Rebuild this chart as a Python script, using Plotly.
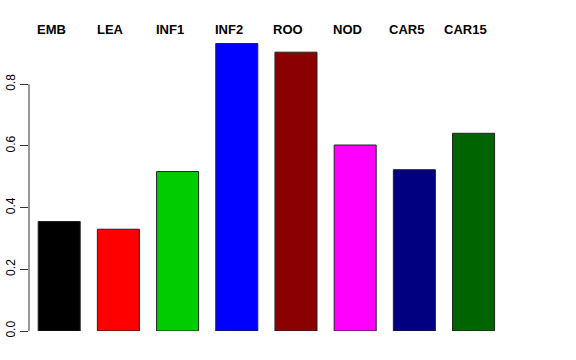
import plotly.graph_objects as go

categories = ["EMB", "LEA", "INF1", "INF2", "ROO", "NOD", "CAR5", "CAR15"]
values = [0.355, 0.330, 0.517, 0.932, 0.904, 0.603, 0.523, 0.641]
colors = ["#000000", "#FF0000", "#00CD00", "#0000FF", "#8B0000", "#FF00FF", "#000080", "#006400"]
tick_vals = [0.0, 0.2, 0.4, 0.6, 0.8]
tick_text = ["0.0", "0.2", "0.4", "0.6", "0.8"]

fig = go.Figure()
fig.add_trace(go.Bar(
    x=list(range(len(categories))),
    y=values,
    marker=dict(color=colors, line=dict(color="#222222", width=1)),
    hoverinfo="skip",
))

for i, c in enumerate(categories):
    fig.add_annotation(
        x=i, y=1.028, xref="x", yref="paper", text="<b>%s</b>" % c,
        showarrow=False, xshift=-8, yanchor="middle", xanchor="center",
        font=dict(family="Liberation Sans, Arial, sans-serif", size=13, color="black"),
    )

# R-style axis line spanning only the tick range
fig.add_shape(type="line", xref="paper", yref="y", x0=0, x1=0,
              y0=tick_vals[0], y1=tick_vals[-1], line=dict(color="#333333", width=1))

fig.update_layout(
    width=576, height=360,
    margin=dict(l=29.3, r=60.7, t=37.8, b=29.3, autoexpand=False),
    plot_bgcolor="white", paper_bgcolor="white",
    bargap=0.29, showlegend=False,
    font=dict(family="Liberation Sans, Arial, sans-serif", size=12, color="black"),
    xaxis=dict(range=[-0.51, 7.7], showticklabels=False, showgrid=False,
               zeroline=False, showline=False, ticks="", automargin=False),
    yaxis=dict(range=[0, 0.95], tickvals=tick_vals, ticktext=tick_text,
               tickangle=-90, ticks="outside", ticklen=8, tickcolor="#333333",
               showgrid=False, zeroline=False, showline=False, automargin=False,
               tickfont=dict(size=12, color="black")),
)

fig.write_html("out.html", config={"displayModeBar": False},
               post_script="document.body.style.margin='0px';")
